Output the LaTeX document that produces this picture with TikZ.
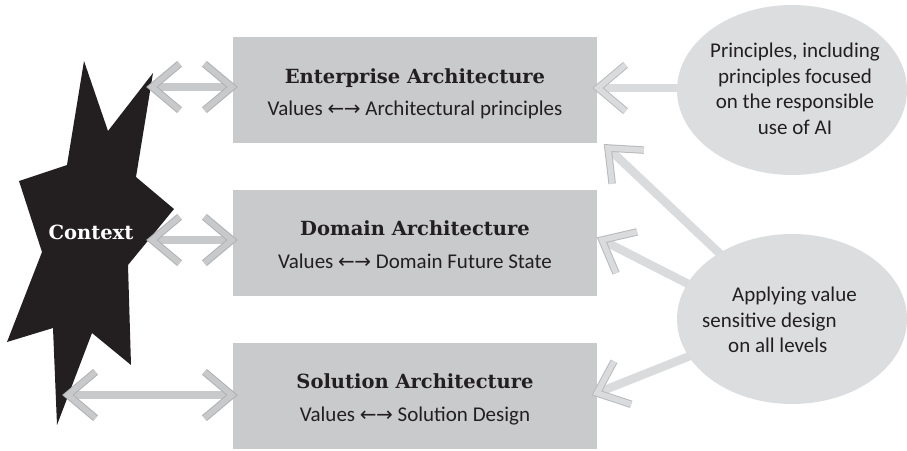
\documentclass[tikz,border=0pt]{standalone}
\usepackage{fontspec}
\setmainfont{Carlito}
\newfontfamily\headfont{DejaVu Serif}
\newfontfamily\arrfont{DejaVu Sans}
\usetikzlibrary{shapes.geometric,calc}
\definecolor{inkblack}{HTML}{231F20}
\definecolor{boxgray}{HTML}{C9CACC}
\definecolor{ellgray}{HTML}{DCDDDF}
\definecolor{leftarr}{HTML}{C8C9CB}
\definecolor{leftarrdk}{HTML}{B0B1B3}
\definecolor{rightarr}{HTML}{DADBDD}
\definecolor{rightarrdk}{HTML}{B9BABC}
\newcommand\dblarrow{{\arrfont\fontsize{20}{20}\selectfont ←\kern-0.5pt→}}
\newcommand\chevtip[3]{%
  \draw[#1out] ($(#2)!36pt!40:(#3)$) -- (#2) -- ($(#2)!36pt!-40:(#3)$);
  \draw[#1in] ($(#2)!36pt!40:(#3)$) -- (#2) -- ($(#2)!36pt!-40:(#3)$);}
\tikzset{
  archbox/.style={fill=boxgray, draw=none, minimum width=364pt, minimum height=106pt, inner sep=0pt},
  headtext/.style={font=\headfont\bfseries\fontsize{19.5}{23}\selectfont, text=inkblack, inner sep=0pt, anchor=base},
  subtext/.style={font=\fontsize{21}{25}\selectfont, text=inkblack, inner sep=0pt, anchor=base},
  ellnode/.style={ellipse, fill=ellgray, draw=none, minimum width=230pt, minimum height=170pt, inner sep=0pt},
  elltext/.style={font=\fontsize{21}{25.5}\selectfont, text=inkblack, inner sep=0pt},
  lshaft/.style={draw=leftarr, line width=8pt, shorten <=3pt, shorten >=3pt},
  rshaft/.style={draw=rightarr, line width=8.5pt, shorten >=3pt},
  Lout/.style={draw=leftarrdk, line width=7.5pt, line join=miter},
  Lin/.style={draw=leftarr, line width=5.5pt, line join=miter},
  Rout/.style={draw=rightarrdk, line width=7.5pt, line join=miter},
  Rin/.style={draw=rightarr, line width=5.5pt, line join=miter},
}
\begin{document}
\begin{tikzpicture}[x=1pt,y=-1pt]
\useasboundingbox (0,0) rectangle (907,450);
% context star
\fill[inkblack] (84,61) -- (108,131) -- (153,73) -- (136,177) -- (174,209) -- (128,265)
  -- (131,365) -- (92,333) -- (57,425) -- (53,328) -- (7,342) -- (42,252) -- (19,181)
  -- (67,165) -- cycle;
\node[font=\headfont\bfseries\fontsize{19.5}{23}\selectfont, text=white, inner sep=0pt] (ctx) at (91,232) {Context};
% boxes
\node[archbox] (ea) at (415,90) {};
\node[archbox] (da) at (415,243) {};
\node[archbox] (sa) at (415,396) {};
\node[headtext] (eah) at (415,83) {Enterprise Architecture};
\node[subtext] (eas) at (415,115) {Values \dblarrow{} Architectural principles};
\node[headtext] (dah) at (415,235) {Domain Architecture};
\node[subtext] (das) at (415,268) {Values \dblarrow{} Domain Future State};
\node[headtext] (sah) at (415,388) {Solution Architecture};
\node[subtext] (sas) at (415,421) {Values \dblarrow{} Solution Design};
% connector end points
\coordinate (c1L) at (152,87);  \coordinate (c1R) at (232,87);
\coordinate (c2L) at (152,240); \coordinate (c2R) at (232,240);
\coordinate (c3L) at (68,395);  \coordinate (c3R) at (232,395);
\coordinate (p1S) at (690,88);  \coordinate (p1T) at (598,88);
\coordinate (v1S) at (735,268); \coordinate (v1T) at (608,148);
\coordinate (v2S) at (700,290); \coordinate (v2T) at (602,240);
\coordinate (v3S) at (700,352); \coordinate (v3T) at (597,393);
% left double arrows
\draw[lshaft] (c1L) -- (c1R); \chevtip{L}{c1L}{c1R} \chevtip{L}{c1R}{c1L}
\draw[lshaft] (c2L) -- (c2R); \chevtip{L}{c2L}{c2R} \chevtip{L}{c2R}{c2L}
\draw[lshaft] (c3L) -- (c3R); \chevtip{L}{c3L}{c3R} \chevtip{L}{c3R}{c3L}
% right arrows
\draw[rshaft] (p1S) -- (p1T); \chevtip{R}{p1T}{p1S}
\draw[rshaft] (v1S) -- (v1T); \chevtip{R}{v1T}{v1S}
\draw[rshaft] (v2S) -- (v2T); \chevtip{R}{v2T}{v2S}
\draw[rshaft] (v3S) -- (v3T); \chevtip{R}{v3T}{v3S}
% ellipses
\node[ellnode] (pr) at (792,90) {};
\node[elltext, align=center] (prt) at (795,89) {Principles, including\\principles focused\\on the responsible\\use of AI};
\node[ellnode] (vs) at (792,319) {};
\node[elltext, align=left, anchor=west] (vst) at (702,320) {\hspace*{30pt}Applying value\\sensitive design\\\hspace*{26pt}on all levels};
\end{tikzpicture}
\end{document}
